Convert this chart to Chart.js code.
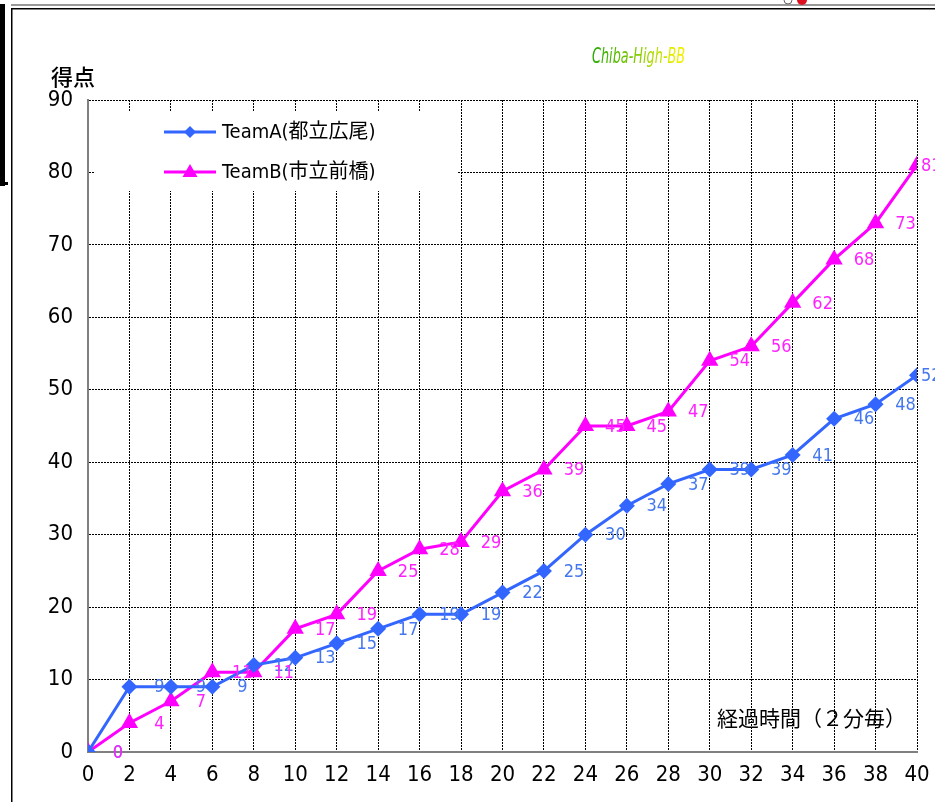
<!DOCTYPE html>
<html><head><meta charset="utf-8">
<script src="https://cdn.jsdelivr.net/npm/chart.js@4"></script>
<style>html,body{margin:0;padding:0;background:#fff;overflow:hidden}#wrap{position:relative;width:935px;height:802px}</style>
</head><body><div id="wrap"><canvas id="c" width="935" height="802"></canvas></div>
<script>
// ---- data ----
const minutes = [0,2,4,6,8,10,12,14,16,18,20,22,24,26,28,30,32,34,36,38,40];
const teamA = [0,9,9,9,12,13,15,17,19,19,22,25,30,34,37,39,39,41,46,48,52];
const teamB = [0,4,7,11,11,17,19,25,28,29,36,39,45,45,47,54,56,62,68,73,81];
const seriesNames = ['TeamA(都立広尾)', 'TeamB(市立前橋)'];
const yTickValues = [0,10,20,30,40,50,60,70,80,90];
const yTitle = '得点';
const xTitle = '経過時間（２分毎）';
const watermark = 'Chiba-High-BB';

const NARROW = '"Liberation Sans Narrow","DejaVu Sans Condensed","Noto Sans CJK JP",sans-serif';
const CJK = '"Noto Sans CJK JP","Liberation Sans Narrow",sans-serif';
const colA = '#3366ff', colB = '#ff00ff';
const labA = '#4477ee', labB = '#ff22ff';

Chart.defaults.font.family = NARROW;
Chart.defaults.color = '#000';

function toXY(vals){ return vals.map((v,i)=>({x:minutes[i], y:v})); }

const decor = {
  id:'decor',
  beforeDatasetsDraw(chart){
    const ctx = chart.ctx;
    ctx.save();
    ctx.fillStyle = '#fff';
    ctx.fillRect(94, 112, 364, 79);
    ctx.restore();
  },
  afterDatasetsDraw(chart){
    const ctx = chart.ctx;
    ctx.save();
    const labCols = [labA, labB];
    chart.data.datasets.forEach((ds, di)=>{
      const meta = chart.getDatasetMeta(di);
      ctx.fillStyle = labCols[di];
      ctx.font = '18px ' + NARROW;
      ctx.textBaseline = 'middle';
      meta.data.forEach((pt, j)=>{
        const v = ds.data[j].y;
        if (j === meta.data.length - 1) {
          ctx.textAlign = 'left';
          ctx.fillText(String(v), pt.x + 4, pt.y + 1);
        } else {
          ctx.textAlign = 'center';
          ctx.fillText(String(v), pt.x + 30, pt.y + 1);
        }
      });
    });
    // legend
    chart.data.datasets.forEach((ds, di)=>{
      const y = 132 + 40*di;
      ctx.strokeStyle = ds.borderColor; ctx.lineWidth = 3;
      ctx.beginPath(); ctx.moveTo(164, y); ctx.lineTo(216, y); ctx.stroke();
      ctx.fillStyle = ds.borderColor;
      ctx.beginPath();
      if (di === 0) {
        ctx.moveTo(190, y-6); ctx.lineTo(196, y); ctx.lineTo(190, y+6); ctx.lineTo(184, y);
      } else {
        ctx.moveTo(190, y-8); ctx.lineTo(197.5, y+5); ctx.lineTo(182.5, y+5);
      }
      ctx.closePath(); ctx.fill();
      ctx.fillStyle = '#000';
      ctx.font = '20px ' + NARROW;
      ctx.textAlign = 'left'; ctx.textBaseline = 'middle';
      ctx.fillText(ds.label, 222, y + 1);
    });
    ctx.restore();
  },
  afterDraw(chart){
    const ctx = chart.ctx;
    ctx.save();
    ctx.fillStyle = '#000';
    ctx.font = '500 22px ' + CJK;
    ctx.textAlign = 'left'; ctx.textBaseline = 'middle';
    ctx.fillText(yTitle, 51, 77);
    ctx.font = '21px ' + CJK;
    ctx.textAlign = 'right';
    ctx.fillText(xTitle, 906, 718);
    // watermark
    ctx.save();
    ctx.translate(592, 58);
    ctx.scale(0.68, 1);
    const g = ctx.createLinearGradient(0, 0, 124, 0);
    g.addColorStop(0, '#22aa00'); g.addColorStop(0.55, '#88cc00'); g.addColorStop(1, '#eeee00');
    ctx.fillStyle = g;
    ctx.font = 'italic 21px ' + NARROW;
    ctx.textAlign = 'left'; ctx.textBaseline = 'middle';
    ctx.fillText(watermark, 0, 0);
    ctx.restore();
    // frame
    ctx.fillStyle = '#000';
    ctx.fillRect(0, 4, 5, 182);
    ctx.fillRect(0, 182, 8, 3);
    ctx.fillStyle = '#999';
    ctx.fillRect(11, 4, 924, 2);
    ctx.fillStyle = '#000';
    ctx.fillRect(11, 8, 924, 1.5);
    ctx.fillRect(11, 8, 1.5, 794);
    ctx.fillStyle = '#dd1122';
    ctx.beginPath(); ctx.arc(802, 0, 5, 0, Math.PI); ctx.fill();
    ctx.strokeStyle = '#666'; ctx.lineWidth = 1;
    ctx.beginPath(); ctx.arc(788, 0, 4, 0, Math.PI); ctx.stroke();
    ctx.restore();
  }
};

new Chart(document.getElementById('c'), {
  type: 'line',
  data: {
    datasets: [
      { label: seriesNames[0], data: toXY(teamA), borderColor: colA, backgroundColor: colA,
        borderWidth: 3, pointStyle: 'rectRot', pointRadius: 8, pointBackgroundColor: colA, pointBorderWidth: 0, tension: 0 },
      { label: seriesNames[1], data: toXY(teamB), borderColor: colB, backgroundColor: colB,
        borderWidth: 3, pointStyle: 'triangle', pointRadius: 10, pointBackgroundColor: colB, pointBorderWidth: 0, tension: 0 }
    ]
  },
  options: {
    responsive: false,
    animation: false,
    devicePixelRatio: 1,
    layout: { padding: { top: 100, right: 18, left: 0, bottom: 0 } },
    plugins: { legend: { display: false }, tooltip: { enabled: false } },
    scales: {
      x: {
        type: 'linear', min: 0, max: 40,
        afterFit(s){ s.height = 50; s.paddingRight = 0; s.paddingLeft = 0; },
        afterBuildTicks(s){ s.ticks = minutes.map(v=>({value:v})); },
        ticks: { font: { size: 22 }, padding: 10, color: '#000', maxRotation: 0, autoSkip: false },
        grid: { color: '#000', lineWidth: 1, drawTicks: false },
        border: { color: '#808080', width: 2, dash: [2, 1] }
      },
      y: {
        min: 0, max: 90,
        afterFit(s){ s.width = 88; s.paddingTop = 0; s.paddingBottom = 0; },
        afterBuildTicks(s){ s.ticks = yTickValues.map(v=>({value:v})); },
        ticks: { font: { size: 22 }, padding: 15, color: '#000' },
        grid: { color: '#000', lineWidth: 1, drawTicks: false },
        border: { color: '#808080', width: 2, dash: [2, 1] }
      }
    }
  },
  plugins: [decor]
});
</script></body></html>
